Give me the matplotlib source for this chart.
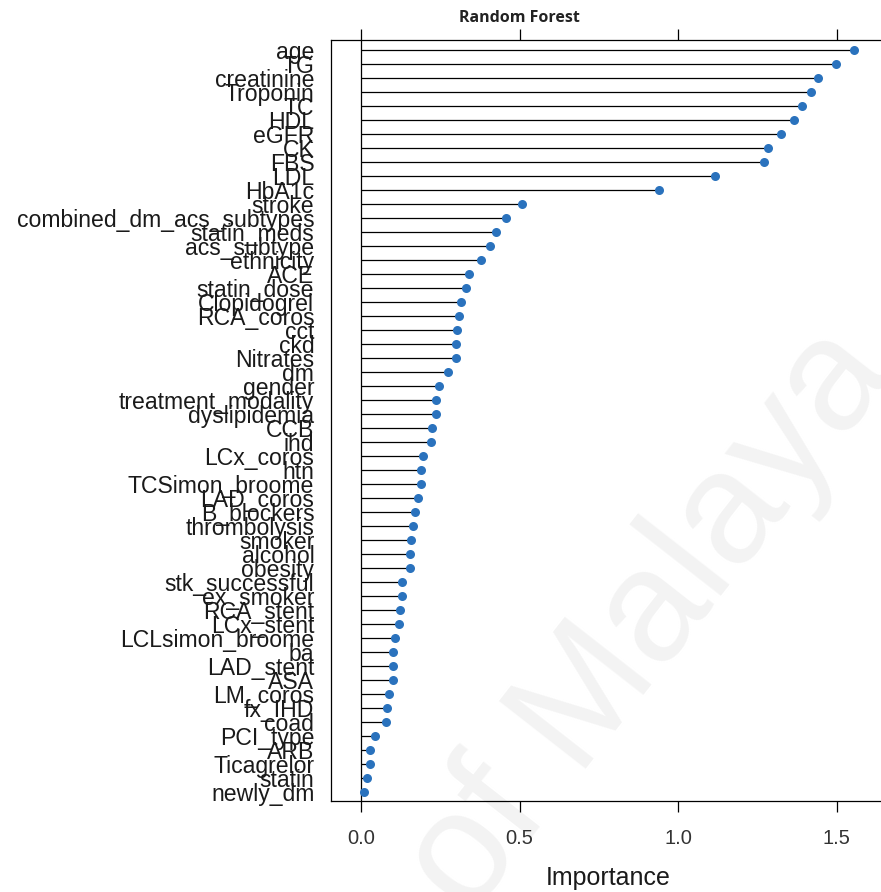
import matplotlib
matplotlib.use("Agg")
import matplotlib.pyplot as plt
import numpy as np

features = ["age", "TG", "creatinine", "Troponin", "TC", "HDL", "eGFR", "CK", "FBS", "LDL",
            "HbA1c", "stroke", "combined_dm_acs_subtypes", "statin_meds", "acs_subtype",
            "ethnicity", "ACE", "statin_dose", "Clopidogrel", "RCA_coros", "cct", "ckd",
            "Nitrates", "dm", "gender", "treatment_modality", "dyslipidemia", "CCB", "ihd",
            "LCx_coros", "htn", "TCSimon_broome", "LAD_coros", "B_blockers", "thrombolysis",
            "smoker", "alcohol", "obesity", "stk_successful", "ex_smoker", "RCA_stent",
            "LCx_stent", "LCLsimon_broome", "ba", "LAD_stent", "ASA", "LM_coros", "fx_IHD",
            "coad", "PCI_type", "ARB", "Ticagrelor", "statin", "newly_dm"]
importance = [1.555, 1.498, 1.441, 1.418, 1.390, 1.365, 1.324, 1.282, 1.271, 1.117,
              0.938, 0.507, 0.457, 0.427, 0.406, 0.377, 0.342, 0.332, 0.314, 0.310,
              0.303, 0.300, 0.298, 0.274, 0.247, 0.236, 0.236, 0.225, 0.220, 0.197,
              0.190, 0.190, 0.181, 0.170, 0.163, 0.158, 0.154, 0.154, 0.128, 0.128,
              0.124, 0.119, 0.106, 0.101, 0.101, 0.101, 0.089, 0.083, 0.080, 0.043,
              0.030, 0.028, 0.018, 0.009]
xticks = [0.0, 0.5, 1.0, 1.5]
xtick_labels = ["0.0", "0.5", "1.0", "1.5"]
title = "Random Forest"
xlabel = "Importance"

W, H = 881, 892
fig = plt.figure(figsize=(W / 100, H / 100), dpi=100)
fig.patch.set_facecolor("white")

# faint watermark (behind everything)
fig.text(650 / W, 1 - 620 / H, "of Malaya", fontsize=115, color="#f3f3f3",
         rotation=52, ha="center", va="center", family="Liberation Sans", zorder=-10)

left, right, top, bottom = 331, 885, 40, 801
ax = fig.add_axes([left / W, 1 - bottom / H, (right - left) / W, (bottom - top) / H])
ax.set_zorder(5)
ax.patch.set_alpha(0)

n = len(features)
ypos = np.arange(n, 0, -1)
ax.axvline(0, color="black", lw=0.9, zorder=1)
ax.hlines(ypos, 0, importance, color="black", lw=0.9, zorder=2)
ax.plot(importance, ypos, "o", color="#2a72bd", markersize=6.5, zorder=3, markeredgewidth=0)

ax.set_xlim(-0.0945, 1.652)
ax.set_ylim(0.34, n + 0.71)

ax.set_yticks(ypos)
ax.set_yticklabels(features, family="Liberation Sans", fontsize=16.6, color="#1a1a1a")
ax.tick_params(axis="y", length=0, pad=12)

ax.set_xticks(xticks)
ax.set_xticklabels(xtick_labels, family="Liberation Sans", fontsize=14.5, color="#333333")
ax.tick_params(axis="x", direction="out", length=8, width=0.9, top=True, labeltop=False, pad=12)

for s in ax.spines.values():
    s.set_linewidth(0.9)

fig.text(519 / W, 1 - 18 / H, title, fontsize=11.5, fontweight="bold",
         family="Open Sans", ha="center", va="center", color="#222222")
fig.text(608 / W, 1 - 878 / H, xlabel, fontsize=18, family="Liberation Sans",
         ha="center", va="center", color="#1a1a1a")

fig.savefig("out.png", dpi=100)
